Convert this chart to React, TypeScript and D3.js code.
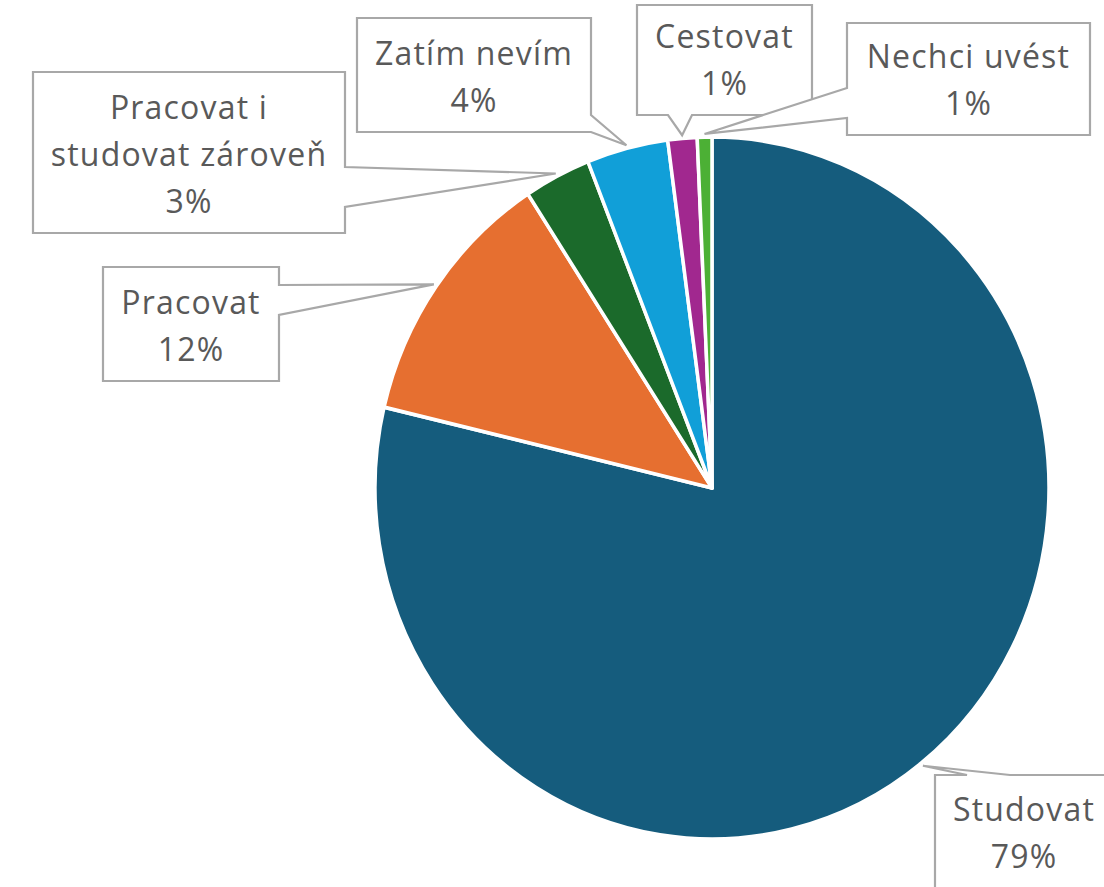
import React from 'react';
import * as d3 from 'd3';

// share of answers, in pie order (clockwise from 12 o'clock)
const categories = ['Studovat', 'Pracovat', 'Pracovat i studovat zároveň', 'Zatím nevím', 'Cestovat', 'Nechci uvést'];
const shares = [78.7, 12.1, 3.2, 3.9, 1.4, 0.7];
const colors = ['#155c7d', '#e66f30', '#1b6a2b', '#119fd8', '#a1288f', '#4cb035'];
// how many words go on the first line of each label
const firstLineWords = [1, 2, 2, 2, 1, 2];

const width = 1104;
const height = 887;

// callout boxes: x, y, w, h and where the pointer leaves the box
const boxes = [
  { x: 935, y: 775, w: 178, h: 113, side: 'top', a: 967, b: 1010 },
  { x: 103, y: 267, w: 176, h: 114, side: 'right', a: 285, b: 315 },
  { x: 33, y: 72, w: 312, h: 161, side: 'right', a: 167, b: 207 },
  { x: 357, y: 18, w: 234, h: 114, side: 'right', a: 115, b: 132 },
  { x: 637, y: 5, w: 175, h: 110, side: 'bottom', a: 668, b: 692 },
  { x: 847, y: 23, w: 243, h: 112, side: 'left', a: 88, b: 118 },
];

function calloutPath(bx, tip) {
  const { x, y, w, h, side, a, b } = bx;
  const r = x + w, btm = y + h;
  let pts;
  if (side === 'right') {
    pts = [[x, y], [r, y], [r, a], tip, [r, b], [r, btm], [x, btm]];
  } else if (side === 'left') {
    pts = [[x, y], [r, y], [r, btm], [x, btm], [x, b], tip, [x, a]];
  } else if (side === 'top') {
    pts = [[x, y], [a, y], tip, [b, y], [r, y], [r, btm], [x, btm]];
  } else {
    pts = [[x, y], [r, y], [r, btm], [b, btm], tip, [a, btm], [x, btm]];
  }
  return 'M' + pts.map(p => p[0] + ',' + p[1]).join('L') + 'Z';
}

export default function App() {
  const cx = 712;
  const cy = 488;
  const radius = 337;
  const squash = 351 / 337;

  const data = categories.map((c, i) => ({ name: c, value: shares[i], color: colors[i], i }));
  const pie = d3.pie().value(d => d.value).sort(null);
  const arcs = pie(data);
  const arc = d3.arc().innerRadius(0).outerRadius(radius);
  const edge = d3.arc().innerRadius(radius + 3).outerRadius(radius + 3);
  const total = d3.sum(shares);

  const slices = arcs.map((d, i) => (
    <path key={i} d={arc(d)} fill={d.data.color} stroke="#fff" strokeWidth={3.5} strokeLinejoin="round" />
  ));

  const labels = arcs.map((d, i) => {
    const c = edge.centroid(d);
    const tip = [cx + c[0], cy + c[1] * squash];
    const bx = boxes[i];
    const words = d.data.name.split(' ');
    const n = firstLineWords[i];
    const lines = [words.slice(0, n).join(' ')];
    if (words.length > n) lines.push(words.slice(n).join(' '));
    lines.push(Math.round((d.data.value / total) * 100) + '%');
    const lineH = 47;
    // last line sits 20px above the box bottom
    const last = bx.y + bx.h - 20;
    return (
      <g key={i}>
        <path d={calloutPath(bx, tip)} fill="#fff" stroke="#a8a8a8" strokeWidth={2.2} />
        {lines.map((t, j) => (
          <text
            key={j}
            x={bx.x + bx.w / 2}
            y={last - (lines.length - 1 - j) * lineH}
            textAnchor="middle"
            fill="#595959"
            fontSize={32}
            letterSpacing={1.2}
            fontFamily="'Open Sans', sans-serif"
          >{t}</text>
        ))}
      </g>
    );
  });

  return (
    <div style={{ position: 'absolute', left: 0, top: 0 }}>
      <svg width={width} height={height} style={{ display: 'block', background: '#fff' }}>
        <g transform={'translate(' + cx + ',' + cy + ') scale(1,' + squash + ')'}>
          {slices}
        </g>
        {labels}
      </svg>
    </div>
  );
}
